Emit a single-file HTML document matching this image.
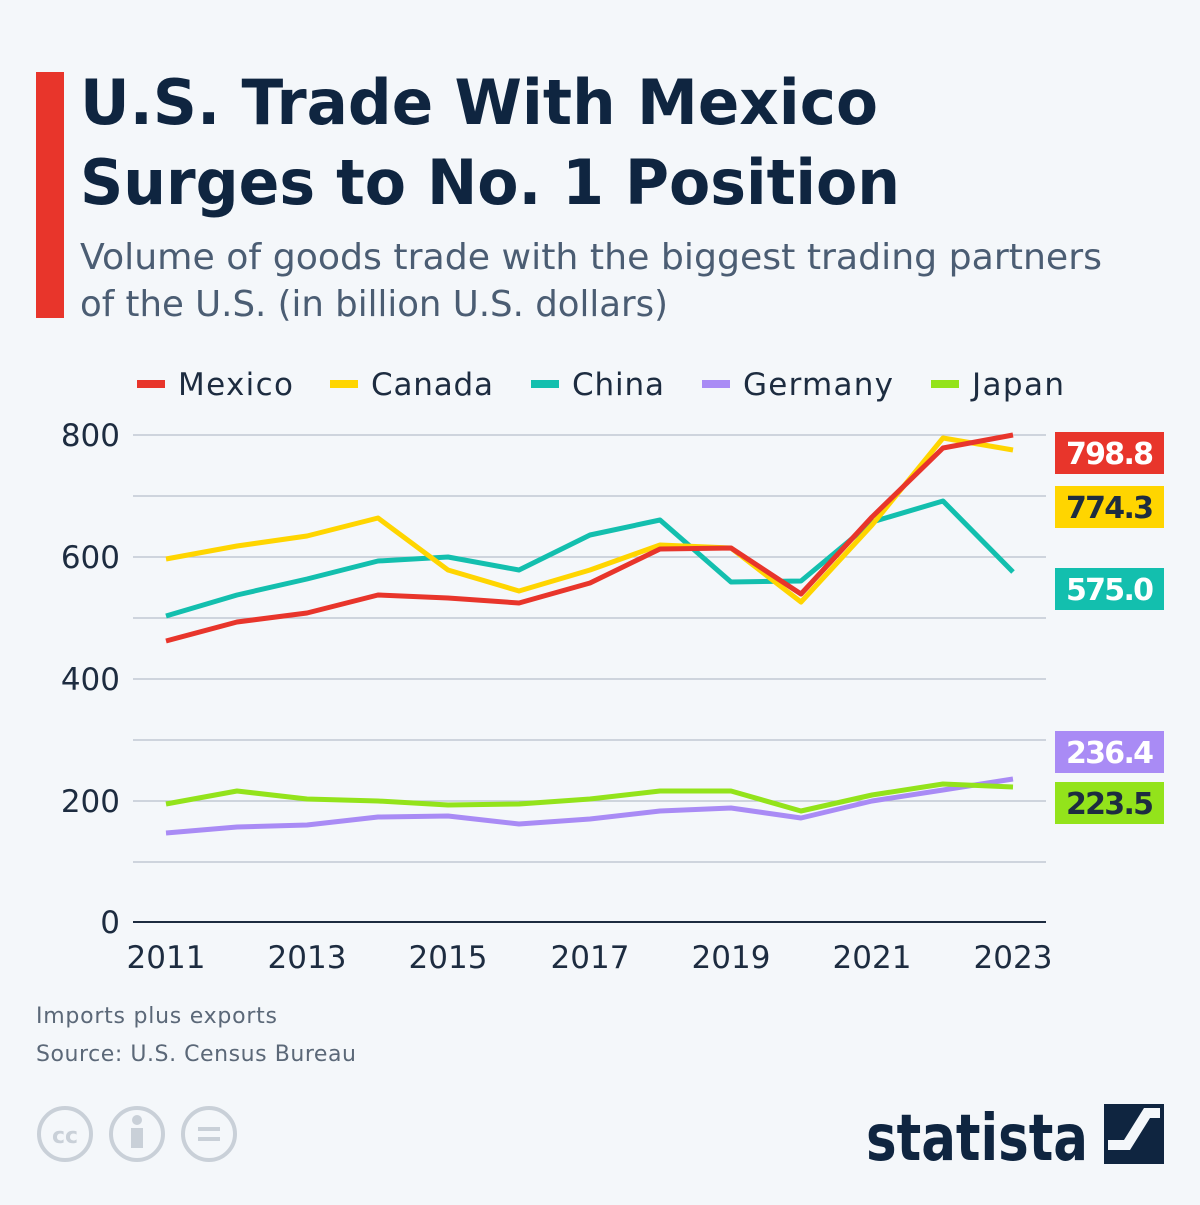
<!DOCTYPE html>
<html><head><meta charset="utf-8"><style>
body{margin:0;background:#f4f7fa;width:1200px;height:1200px;overflow:hidden;font-family:"Liberation Sans","DejaVu Sans",sans-serif}
</style></head><body>
<svg width="1200" height="1200" xmlns="http://www.w3.org/2000/svg" font-family="'DejaVu Sans','Liberation Sans',sans-serif">
<rect width="1200" height="1200" fill="#f4f7fa"/>
<rect x="36" y="72" width="28" height="246" fill="#e8352b"/>
<text x="80" y="124" font-size="62" font-weight="bold" fill="#0f2540" textLength="798" lengthAdjust="spacingAndGlyphs">U.S. Trade With Mexico</text>
<text x="80" y="204" font-size="62" font-weight="bold" fill="#0f2540" textLength="820" lengthAdjust="spacingAndGlyphs">Surges to No. 1 Position</text>
<text x="80" y="269" font-size="36" fill="#4b5d73" textLength="1022" lengthAdjust="spacingAndGlyphs">Volume of goods trade with the biggest trading partners</text>
<text x="80" y="316" font-size="36" fill="#4b5d73" textLength="588" lengthAdjust="spacingAndGlyphs">of the U.S. (in billion U.S. dollars)</text>
<g font-size="31" fill="#1d2c40">
<rect x="137" y="380" width="28" height="8" fill="#e8352b"/><text x="178" y="395" textLength="115">Mexico</text>
<rect x="330" y="380" width="28" height="8" fill="#ffd500"/><text x="371" y="395" textLength="122">Canada</text>
<rect x="531" y="380" width="28" height="8" fill="#13bfae"/><text x="572" y="395" textLength="92">China</text>
<rect x="702" y="380" width="28" height="8" fill="#a98bf5"/><text x="743" y="395" textLength="150">Germany</text>
<rect x="931" y="380" width="28" height="8" fill="#93e31b"/><text x="972" y="395" textLength="92">Japan</text>
</g>
<g stroke="#b8c0cc" stroke-width="1.3">
<line x1="133" x2="1046" y1="435" y2="435"/><line x1="133" x2="1046" y1="496" y2="496"/><line x1="133" x2="1046" y1="557" y2="557"/><line x1="133" x2="1046" y1="618" y2="618"/><line x1="133" x2="1046" y1="679" y2="679"/><line x1="133" x2="1046" y1="740" y2="740"/><line x1="133" x2="1046" y1="801" y2="801"/><line x1="133" x2="1046" y1="862" y2="862"/>
</g>
<line x1="133" x2="1046" y1="922" y2="922" stroke="#1d2c40" stroke-width="2"/>
<g font-size="31" fill="#1d2c40" text-anchor="end">
<text x="120" y="446">800</text><text x="120" y="568">600</text><text x="120" y="690">400</text><text x="120" y="812">200</text><text x="120" y="933">0</text>
</g>
<g font-size="31" fill="#1d2c40" text-anchor="middle">
<text x="166" y="968">2011</text><text x="307" y="968">2013</text><text x="448" y="968">2015</text><text x="590" y="968">2017</text><text x="731" y="968">2019</text><text x="872" y="968">2021</text><text x="1013" y="968">2023</text>
</g>
<g fill="none" stroke-width="5" stroke-linejoin="round">
<polyline stroke="#a98bf5" points="166,833 237,827 307,825 378,817 448,816 519,824 590,819 660,811 731,808 801,818 872,801 943,790 1013,779"/>
<polyline stroke="#93e31b" points="166,804 237,791 307,799 378,801 448,805 519,804 590,799 660,791 731,791 801,811 872,795 943,784 1013,787"/>
<polyline stroke="#13bfae" points="166,616 237,595 307,579 378,561 448,557 519,570 590,535 660,520 731,582 801,581 872,522 943,501 1013,572"/>
<polyline stroke="#ffd500" points="166,559 237,546 307,536 378,518 448,570 519,591 590,570 660,545 731,548 801,602 872,525 943,438 1013,450"/>
<polyline stroke="#e8352b" points="166,641 237,622 307,613 378,595 448,598 519,603 590,583 660,549 731,548 801,594 872,517 943,448 1013,435"/>
</g>
<g font-size="30" font-weight="bold" text-anchor="middle">
<rect x="1055" y="432" width="109" height="42" fill="#e8352b"/><text x="1110" y="464" fill="#fff" textLength="88">798.8</text>
<rect x="1055" y="486" width="109" height="42" fill="#ffd500"/><text x="1110" y="518" fill="#1d2c40" textLength="88">774.3</text>
<rect x="1055" y="568" width="109" height="42" fill="#13bfae"/><text x="1110" y="600" fill="#fff" textLength="88">575.0</text>
<rect x="1055" y="731" width="109" height="42" fill="#a98bf5"/><text x="1110" y="763" fill="#fff" textLength="88">236.4</text>
<rect x="1055" y="782" width="109" height="42" fill="#93e31b"/><text x="1110" y="814" fill="#1d2c40" textLength="88">223.5</text>
</g>
<text x="36" y="1023" font-size="22" fill="#5b6878" textLength="241">Imports plus exports</text>
<text x="36" y="1061" font-size="22" fill="#5b6878" textLength="320">Source: U.S. Census Bureau</text>
<g fill="none" stroke="#c9d0d8" stroke-width="4">
<circle cx="65" cy="1134" r="26"/><circle cx="137" cy="1134" r="26"/><circle cx="209" cy="1134" r="26"/>
</g>
<text x="65" y="1143" font-size="22" font-weight="bold" fill="#c9d0d8" text-anchor="middle">cc</text>
<circle cx="137" cy="1120" r="5" fill="#c9d0d8"/><rect x="131" y="1128" width="12" height="20" fill="#c9d0d8"/>
<rect x="198" y="1127" width="22" height="4" fill="#c9d0d8"/><rect x="198" y="1137" width="22" height="4" fill="#c9d0d8"/>
<text x="866" y="1160" font-size="64" font-weight="bold" fill="#0f2540" textLength="222" lengthAdjust="spacingAndGlyphs">statista</text>
<rect x="1104" y="1104" width="60" height="60" fill="#0f2540"/>
<path d="M1108 1150 L1130 1150 L1150 1118 L1160 1118 L1160 1108 L1144 1108 L1124 1140 L1108 1140 Z" fill="#f4f7fa"/>
</svg>
</body></html>
